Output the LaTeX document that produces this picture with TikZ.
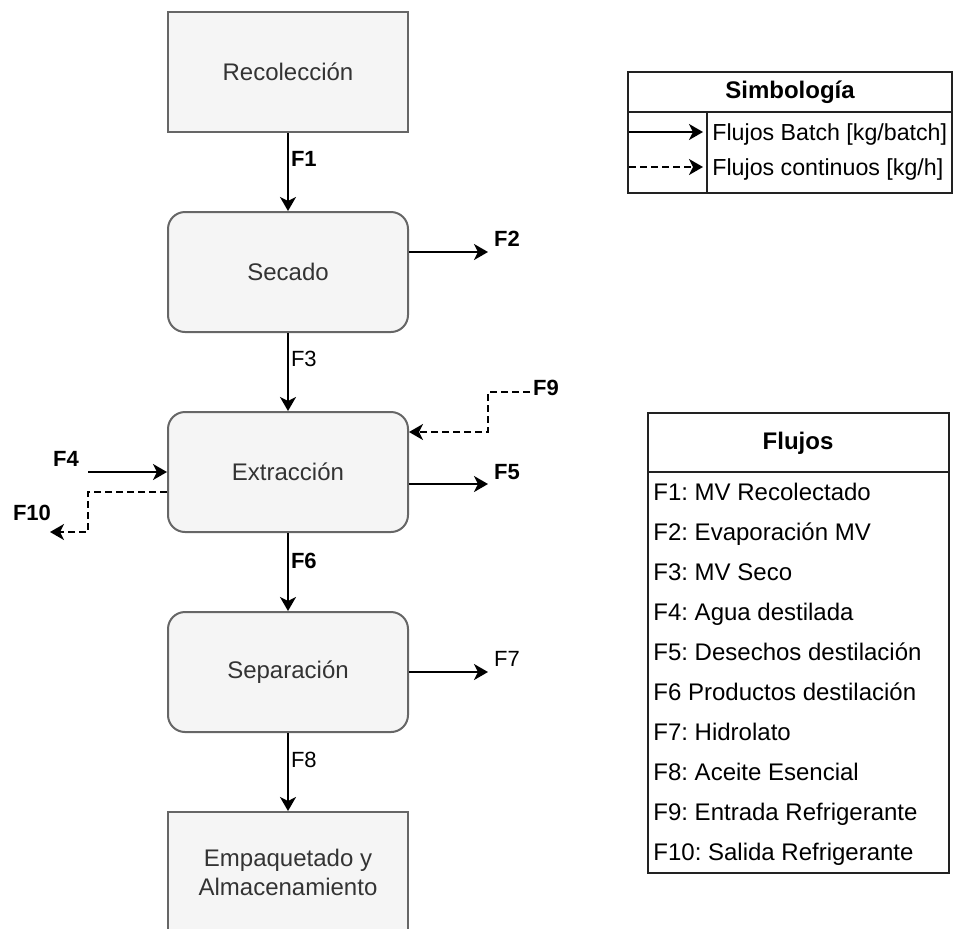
\documentclass[tikz,border=0pt]{standalone}
\usepackage{fontspec}
\setmainfont{Liberation Sans}
\usepackage{xcolor}
\definecolor{boxFill}{HTML}{F5F5F5}
\definecolor{boxLine}{HTML}{666666}
\definecolor{boxText}{HTML}{333333}
\definecolor{tabLine}{HTML}{222222}
\usetikzlibrary{arrows.meta}
\frenchspacing

\begin{document}
\begin{tikzpicture}[x=0.5pt, y=-0.5pt,
  procbox/.style={draw=boxLine, line width=1pt, fill=boxFill, text=boxText, minimum width=120pt, minimum height=60pt, inner sep=0pt, align=center, font=\fontsize{12}{14.5}\selectfont},
  roundbox/.style={procbox, rounded corners=8.5pt},
  batch/.style={-{Stealth[length=7pt, width=8pt, inset=2pt]}, line width=1pt},
  cont/.style={batch, dash pattern=on 3.5pt off 2pt},
  flabel/.style={font=\fontsize{11}{13}\selectfont\bfseries, inner sep=1pt},
  flight/.style={font=\fontsize{11}{13}\selectfont, inner sep=1pt},
  tabtext/.style={font=\fontsize{12}{14}\selectfont, anchor=base west, inner sep=0pt},
  legtext/.style={tabtext, font=\fontsize{11.6}{14}\selectfont}]
  \useasboundingbox (0,0) rectangle (956,928);
  % process chain
  \node[procbox] (rec) at (288,72) {Recolección};
  \node[roundbox] (sec) at (288,272) {Secado};
  \node[roundbox] (ext) at (288,472) {Extracción};
  \node[roundbox] (sep) at (288,672) {Separación};
  \node[procbox] (emp) at (288,872) {Empaquetado y\\Almacenamiento};
  \draw[batch] (rec) -- node[flabel, right, pos=0.33] (l1) {F1} (sec);
  \draw[batch] (sec) -- node[flight, right, pos=0.33] (l3) {F3} (ext);
  \draw[batch] (ext) -- node[flabel, right, pos=0.36] (l6) {F6} (sep);
  \draw[batch] (sep) -- node[flight, right, pos=0.34] (l8) {F8} (emp);
  % side streams
  \coordinate (f2end) at (488,252);
  \node[flabel] (l2) at (507,239) {F2};
  \draw[batch] (sec.east |- f2end) -- (f2end);
  \coordinate (f4start) at (88,472);
  \node[flabel] (l4) at (66,459) {F4};
  \draw[batch] (f4start) -- (ext.west);
  \coordinate (f5end) at (488,484);
  \node[flabel] (l5) at (507,472) {F5};
  \draw[batch] (ext.east |- f5end) -- (f5end);
  \coordinate (f7end) at (488,672);
  \node[flight] (l7) at (507,659) {F7};
  \draw[batch] (sep.east) -- (f7end);
  \coordinate (f9start) at (530,392);
  \coordinate (f9knee) at (488,432);
  \node[flabel] (l9) at (546,388) {F9};
  \draw[cont] (f9start) -| (f9knee) -- (ext.east |- f9knee);
  \coordinate (f10knee) at (88,492);
  \coordinate (f10end) at (50,532);
  \node[flabel] (l10) at (32,513) {F10};
  \draw[cont] (ext.west |- f10knee) -- (f10knee) |- (f10end);
  % legend
  \draw[tabLine, line width=1pt] (628,72) rectangle (952,193);
  \draw[tabLine, line width=1pt] (628,112) -- (952,112);
  \draw[tabLine, line width=1pt] (707,112) -- (707,193);
  \node[font=\fontsize{12}{14}\selectfont\bfseries, inner sep=0pt] (simb) at (790,92) {Simbología};
  \node[legtext] (lgbatch) at (712,140) {Flujos Batch [kg/batch]};
  \node[legtext] (lgcont) at (712,175) {Flujos continuos [kg/h]};
  \coordinate (lg1) at (629,132);
  \coordinate (lg2) at (629,167);
  \draw[batch] (lg1) -- (lg1 -| 703,0);
  \draw[cont] (lg2) -- (lg2 -| 703,0);
  % stream list
  \draw[tabLine, line width=1pt] (648,413) rectangle (949,873);
  \draw[tabLine, line width=1pt] (648,472) -- (949,472);
  \node[font=\fontsize{12}{14}\selectfont\bfseries, inner sep=0pt] (flujos) at (798,443) {Flujos};
  \node[tabtext] (s1) at (653,500) {F1: MV Recolectado};
  \node[tabtext] (s2) at (653,540) {F2: Evaporación MV};
  \node[tabtext] (s3) at (653,580) {F3: MV Seco};
  \node[tabtext] (s4) at (653,620) {F4: Agua destilada};
  \node[tabtext] (s5) at (653,660) {F5: Desechos destilación};
  \node[tabtext] (s6) at (653,700) {F6 Productos destilación};
  \node[tabtext] (s7) at (653,740) {F7: Hidrolato};
  \node[tabtext] (s8) at (653,780) {F8: Aceite Esencial};
  \node[tabtext] (s9) at (653,820) {F9: Entrada Refrigerante};
  \node[tabtext] (s10) at (653,860) {F10: Salida Refrigerante};
\end{tikzpicture}
\end{document}
